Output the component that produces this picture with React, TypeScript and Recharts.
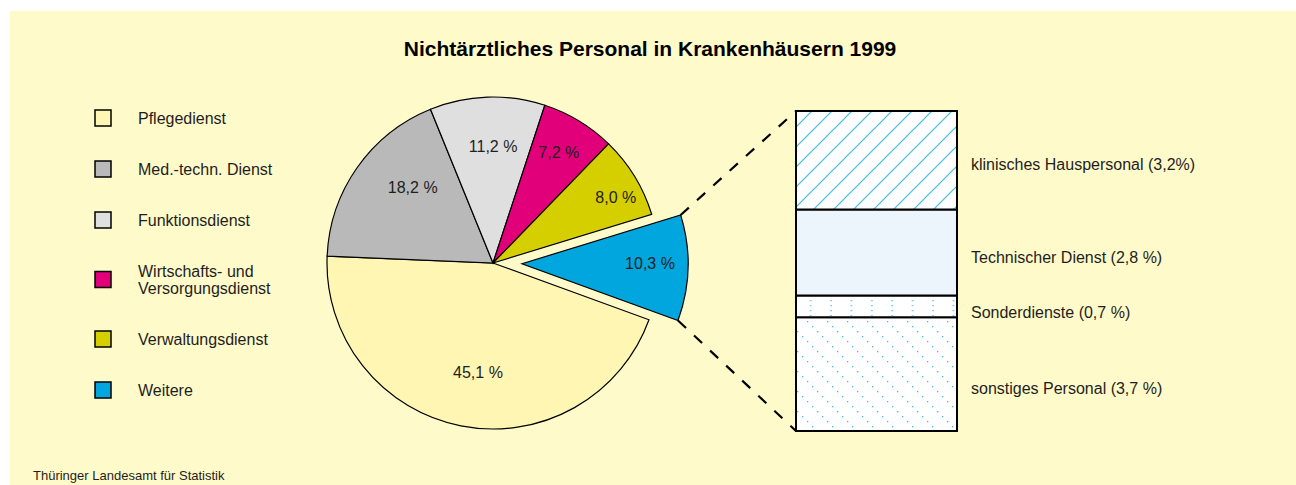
import React from 'react';
import { PieChart, Pie, Cell, BarChart, Bar, XAxis, YAxis, LabelList, Legend } from 'recharts';

// Anteile am nichtärztlichen Personal 1999 (%)
const categories = [
  'Pflegedienst',
  'Med.-techn. Dienst',
  'Funktionsdienst',
  'Wirtschafts- und Versorgungsdienst',
  'Verwaltungsdienst',
  'Weitere',
];
const shares = [45.1, 18.2, 11.2, 7.2, 8.0, 10.3];
const shareLabels = ['45,1 %', '18,2 %', '11,2 %', '7,2 %', '8,0 %', '10,3 %'];

// Aufteilung "Weitere", von unten nach oben gestapelt
const detailNames = ['sonstiges Personal', 'Sonderdienste', 'Technischer Dienst', 'klinisches Hauspersonal'];
const detailValues = [3.7, 0.7, 2.8, 3.2];
const detailLabels = [
  'sonstiges Personal (3,7 %)',
  'Sonderdienste (0,7 %)',
  'Technischer Dienst (2,8 %)',
  'klinisches Hauspersonal (3,2%)',
];

const FONT = '"Liberation Sans", Arial, sans-serif';
const BG = '#FFFAC9';
const TEXT = '#1e1e1e';
const sliceColors = ['#FFF6B4', '#B9B9B9', '#DFDFDF', '#E2007A', '#D6CF00', '#00A6DD'];
const detailFills = ['url(#dotsDiag)', 'url(#dotsVert)', '#EDF5FC', 'url(#hatch)'];
const PATTERN_BLUE = '#3DBDE6';

// pie geometry
const CX = 493;
const CY = 263;
const R = 166;
const START = 340;
const END = -20;
const EXPLODE = 29;
const EXPLODED = 5;
const RAD = Math.PI / 180;

// label placement: [radius, angle tweak]
const labelPlacement: [number, number][] = [
  [111, 3.4],
  [110, -8],
  [117, -2],
  [129, 0.5],
  [139, -3.5],
  [128, 1.5],
];

// stacked bar geometry
const BAR_LEFT = 796;
const BAR_TOP = 111;
const BAR_W = 161;
const BAR_H = 320;
const detailLabelDy = [14, 6, 5, 4];

const pieData = categories.map((name, i) => ({ name, value: shares[i] }));
const detailRow: Record<string, number | string> = { group: 'Weitere' };
detailNames.forEach((n, i) => {
  detailRow[n] = detailValues[i];
});
const detailData = [detailRow];

const total = shares.reduce((a, b) => a + b, 0);
const before = shares.slice(0, EXPLODED).reduce((a, b) => a + b, 0);
const expStart = START - (before / total) * 360;
const expEnd = expStart - (shares[EXPLODED] / total) * 360;
const expMid = (expStart + expEnd) / 2;
const ECX = CX + EXPLODE * Math.cos(expMid * RAD);
const ECY = CY - EXPLODE * Math.sin(expMid * RAD);
const cornerTop = { x: ECX + R * Math.cos(expStart * RAD), y: ECY - R * Math.sin(expStart * RAD) };
const cornerBottom = { x: ECX + R * Math.cos(expEnd * RAD), y: ECY - R * Math.sin(expEnd * RAD) };

const renderPieLabel = (exploded: boolean) => (p: any) => {
  if ((p.index === EXPLODED) !== exploded) return null;
  const [r, da] = labelPlacement[p.index];
  const a = (p.midAngle + da) * RAD;
  return (
    <text
      x={p.cx + r * Math.cos(a)}
      y={p.cy - r * Math.sin(a)}
      textAnchor="middle"
      dominantBaseline="central"
      fontFamily={FONT}
      fontSize={16}
      fill={TEXT}
    >
      {shareLabels[p.index]}
    </text>
  );
};

const renderDetailLabel = (p: any, i: number) => {
  const vb = p.viewBox && p.viewBox.width !== undefined ? p.viewBox : p;
  return (
    <text
      x={vb.x + vb.width + 14}
      y={vb.y + vb.height / 2 + detailLabelDy[i]}
      dominantBaseline="central"
      fontFamily={FONT}
      fontSize={16}
      fill={TEXT}
    >
      {detailLabels[i]}
    </text>
  );
};

const LegendBox = () => {
  let y = 118;
  const rows = categories.map((name, i) => {
    const lines = name.replace('und ', 'und\n').split('\n');
    if (i > 0) {
      const prevLines = categories[i - 1].includes('und ') ? 2 : 1;
      y += 51 + (prevLines - 1 + lines.length - 1) * 8.5;
    }
    const cy = y;
    return (
      <g key={name}>
        <rect x={95} y={cy - 8} width={16} height={16} fill={sliceColors[i]} stroke="#000" strokeWidth={1.5} />
        <text x={138} y={cy - ((lines.length - 1) * 17) / 2} fontFamily={FONT} fontSize={16} fill={TEXT} dominantBaseline="central">
          {lines.map((l, k) => (
            <tspan key={k} x={138} dy={k === 0 ? 0 : 17}>
              {l}
            </tspan>
          ))}
        </text>
      </g>
    );
  });
  return (
    <svg width={320} height={420} style={{ position: 'absolute', left: 0, top: 0 }}>
      {rows}
    </svg>
  );
};

const App = () => {
  return (
    <div style={{ position: 'relative', width: 1296, height: 485, overflow: 'hidden', fontFamily: FONT }}>
      <style>{'body{margin:0}'}</style>
      <svg width={0} height={0} style={{ position: 'absolute' }}>
        <defs>
          <pattern id="hatch" patternUnits="userSpaceOnUse" width={20} height={20}>
            <rect width={20} height={20} fill="#fff" />
            <path d="M-5,5 L5,-5 M0,20 L20,0 M15,25 L25,15" stroke={PATTERN_BLUE} strokeWidth={1.2} />
          </pattern>
          <pattern id="dotsVert" patternUnits="userSpaceOnUse" width={20.4} height={5}>
            <rect width={20.4} height={5} fill="#fff" />
            <rect x={16} y={1} width={1.3} height={1.3} fill={PATTERN_BLUE} />
          </pattern>
          <pattern id="dotsDiag" patternUnits="userSpaceOnUse" width={20} height={20}>
            <rect width={20} height={20} fill="#fff" />
            <rect x={3} y={2} width={1.3} height={1.3} fill={PATTERN_BLUE} />
            <rect x={8} y={7} width={1.3} height={1.3} fill={PATTERN_BLUE} />
            <rect x={13} y={12} width={1.3} height={1.3} fill={PATTERN_BLUE} />
            <rect x={18} y={17} width={1.3} height={1.3} fill={PATTERN_BLUE} />
          </pattern>
        </defs>
      </svg>

      <div style={{ position: 'absolute', left: 10, top: 11, width: 1286, height: 474, background: BG }} />

      <div style={{ position: 'absolute', left: 0, top: 0 }}>
        <PieChart width={1296} height={485} margin={{ top: 0, right: 0, bottom: 0, left: 0 }}>
          <Pie
            data={pieData}
            dataKey="value"
            nameKey="name"
            cx={CX}
            cy={CY}
            outerRadius={R}
            startAngle={START}
            endAngle={END}
            stroke="#000"
            strokeWidth={1.2}
            label={renderPieLabel(false)}
            labelLine={false}
            isAnimationActive={false}
          >
            {pieData.map((d, i) => (
              <Cell
                key={d.name}
                fill={i === EXPLODED ? 'none' : sliceColors[i]}
                stroke={i === EXPLODED ? 'none' : '#000'}
              />
            ))}
          </Pie>
          <Pie
            data={pieData}
            dataKey="value"
            nameKey="name"
            cx={ECX}
            cy={ECY}
            outerRadius={R}
            startAngle={START}
            endAngle={END}
            stroke="#000"
            strokeWidth={1.2}
            label={renderPieLabel(true)}
            labelLine={false}
            isAnimationActive={false}
          >
            {pieData.map((d, i) => (
              <Cell
                key={d.name}
                fill={i === EXPLODED ? sliceColors[i] : 'none'}
                stroke={i === EXPLODED ? '#000' : 'none'}
              />
            ))}
          </Pie>
          <Legend
            layout="vertical"
            align="center"
            verticalAlign="middle"
            wrapperStyle={{ left: 0, top: 0, width: 320, height: 420 }}
            content={() => <LegendBox />}
          />
        </PieChart>
      </div>

      <div style={{ position: 'absolute', left: BAR_LEFT - 2, top: BAR_TOP - 2 }}>
        <BarChart
          width={BAR_W + 2 + 300}
          height={BAR_H + 4}
          data={detailData}
          margin={{ top: 2, left: 2, bottom: 2, right: 300 }}
          barCategoryGap={0}
        >
          <XAxis dataKey="group" type="category" hide />
          <YAxis type="number" domain={[0, 'dataMax']} hide />
          {detailNames.map((n, i) => (
            <Bar key={n} dataKey={n} stackId="w" fill={detailFills[i]} stroke="#000" strokeWidth={2} isAnimationActive={false}>
              <LabelList dataKey={n} content={(p: any) => renderDetailLabel(p, i)} />
            </Bar>
          ))}
        </BarChart>
      </div>

      <svg width={1296} height={485} style={{ position: 'absolute', left: 0, top: 0, pointerEvents: 'none' }}>
        <text x={650} y={48} textAnchor="middle" dominantBaseline="central" fontFamily={FONT} fontSize={21} fontWeight="bold" fill="#000">
          Nichtärztliches Personal in Krankenhäusern 1999
        </text>
        <line x1={cornerTop.x} y1={cornerTop.y} x2={BAR_LEFT} y2={BAR_TOP} stroke="#000" strokeWidth={2.2} strokeDasharray="11 11" />
        <line x1={cornerBottom.x} y1={cornerBottom.y} x2={BAR_LEFT} y2={BAR_TOP + BAR_H} stroke="#000" strokeWidth={2.2} strokeDasharray="11 11" />
        <text x={33} y={475} dominantBaseline="central" fontFamily={FONT} fontSize={13} fill={TEXT}>
          Thüringer Landesamt für Statistik
        </text>
      </svg>
    </div>
  );
};

export default App;
